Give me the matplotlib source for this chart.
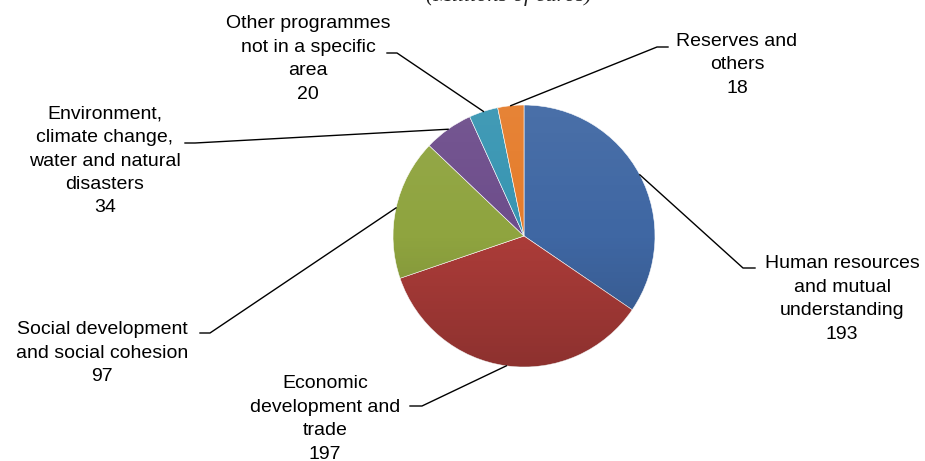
import numpy as np
import matplotlib
matplotlib.use("Agg")
import matplotlib.pyplot as plt
from matplotlib.patches import Circle

# data (millions of euros)
labels = ["Human resources\nand mutual\nunderstanding",
          "Economic\ndevelopment and\ntrade",
          "Social development\nand social cohesion",
          "Environment,\nclimate change,\nwater and natural\ndisasters",
          "Other programmes\nnot in a specific\narea",
          "Reserves and\nothers"]
values = [193, 197, 97, 34, 20, 18]
colors = ["#3F67A3", "#AC3C39", "#8FA43F", "#6D4D8B", "#3795B2", "#E57C2B"]

# layout in pixel coords (y measured from the top): text centre, elbow, line end
text_pos = [(842, 299), (325, 419), (102, 353), (105, 161), (308, 59), (737, 65)]
elbows = [(743, 268), (422, 406), (210, 333), (195, 143), (397, 53), (657, 47)]
ends = [(755, 268), (410, 406), (200, 333), (185, 143), (387, 53), (668, 47)]

W, H = 925, 461
fig = plt.figure(figsize=(9.25, 4.61), dpi=100)
ax = fig.add_axes([0, 0, 1, 1])

cx, cy, r = 524, H - 236, 131
wedges, _ = ax.pie(values, colors=colors, startangle=90, counterclock=False,
                   center=(cx, cy), radius=r, frame=True,
                   wedgeprops=dict(edgecolor="white", linewidth=0.4))
ax.set_xlim(0, W)
ax.set_ylim(0, H)
ax.axis("off")

# excel-ish vertical shading over the pie
grad = np.zeros((100, 2, 4))
t = np.linspace(0, 1, 100)[:, None]
grad[..., :3] = np.where(t < 0.5, 1.0, 0.0)[..., None] * np.ones((100, 2, 3))
grad[..., 3] = np.where(t < 0.5, 0.06 * (1 - 2 * t), 0.18 * (2 * t - 1)).repeat(2, axis=1)
im = ax.imshow(grad, extent=(cx - r, cx + r, cy - r, cy + r), origin="upper",
               aspect="auto", zorder=3)
im.set_clip_path(Circle((cx, cy), r, transform=ax.transData))

for w, lab, v, tp, el, en in zip(wedges, labels, values, text_pos, elbows, ends):
    mid = np.deg2rad((w.theta1 + w.theta2) / 2)
    ax_pt = (cx + r * np.cos(mid), cy + r * np.sin(mid))
    ax.plot([ax_pt[0], el[0], en[0]], [ax_pt[1], H - el[1], H - en[1]],
            color="black", lw=1.0, zorder=4)
    ax.text(tp[0], H - tp[1], f"{lab}\n{v}", ha="center", va="center",
            fontsize=14, family="Liberation Sans", linespacing=1.5, zorder=5)

# title sits mostly above the top edge, as in the original crop
ax.text(509, H - 1, "(Millions of euros)", ha="center", va="baseline",
        fontsize=16, family="Liberation Serif", style="italic", color="#222222")

fig.savefig("out.png", dpi=100)
